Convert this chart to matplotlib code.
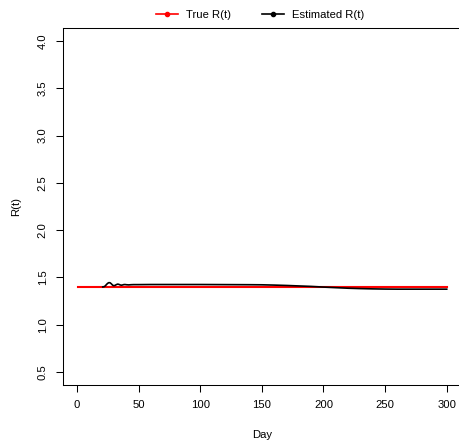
"""Plot the true and estimated reproduction number R(t) over time."""

from matplotlib import pyplot

# True reproduction number (constant over the simulation).
true_days = [1, 300]
true_r = [1.40, 1.40]

# Estimated reproduction number from the filter.
est_days = [21, 22, 23, 24, 25, 26, 27, 28, 29, 30, 31, 32, 33, 34, 35, 36,
            37, 38, 39, 40, 42, 44, 46, 50, 60, 80, 100, 120, 140, 150, 160,
            170, 180, 190, 200, 210, 220, 230, 240, 250, 260, 280, 300]
est_r = [1.400, 1.402, 1.410, 1.425, 1.438, 1.445, 1.443, 1.432, 1.418,
         1.413, 1.416, 1.424, 1.429, 1.427, 1.421, 1.418, 1.420, 1.424,
         1.425, 1.423, 1.421, 1.423, 1.424, 1.424, 1.425, 1.425, 1.425,
         1.424, 1.423, 1.422, 1.419, 1.415, 1.410, 1.405, 1.398, 1.392,
         1.386, 1.382, 1.379, 1.377, 1.376, 1.376, 1.376]

xticks = [0, 50, 100, 150, 200, 250, 300]
yticks = [0.5, 1.0, 1.5, 2.0, 2.5, 3.0, 3.5, 4.0]

pyplot.rc('font', family=['Liberation Sans', 'DejaVu Sans'], size=8.1)
fig = pyplot.figure(figsize=(4.59, 4.41), dpi=100)
ax = fig.add_axes([0.1366, 0.1277, 0.8689, 0.8081])

ax.plot(true_days, true_r, color='#ff0000', linewidth=1.5,
        label='True R(t)')
ax.plot(est_days, est_r, color='black', linewidth=1.2,
        label='Estimated R(t)')

ax.set_xlim(-11.5, 312.0)
ax.set_ylim(0.366, 4.134)
ax.set_xticks(xticks)
ax.set_yticks(yticks)
ax.set_yticklabels([f'{v:.1f}' for v in yticks], rotation=90, va='center')
ax.tick_params(direction='out', length=5.2, width=0.75, pad=5.5,
               labelsize=8.1)
for spine in ax.spines.values():
    spine.set_linewidth(0.75)

ax.set_xlabel('Day', fontsize=8.1, labelpad=15)
ax.set_ylabel('R(t)', fontsize=8.1, labelpad=12)

# Legend on top, outside the plotting region.
handles = [
    pyplot.Line2D([], [], color='#ff0000', linewidth=1.2, marker='o',
                  markersize=3),
    pyplot.Line2D([], [], color='black', linewidth=1.2, marker='o',
                  markersize=3),
]
fig.legend(handles, ['True R(t)', 'Estimated R(t)'], ncol=2,
           loc='center', bbox_to_anchor=(0.5665, 0.966), frameon=False,
           fontsize=8.1, handlelength=2.0, columnspacing=2.75,
           handletextpad=0.7)

fig.savefig('out.png', dpi=100)
